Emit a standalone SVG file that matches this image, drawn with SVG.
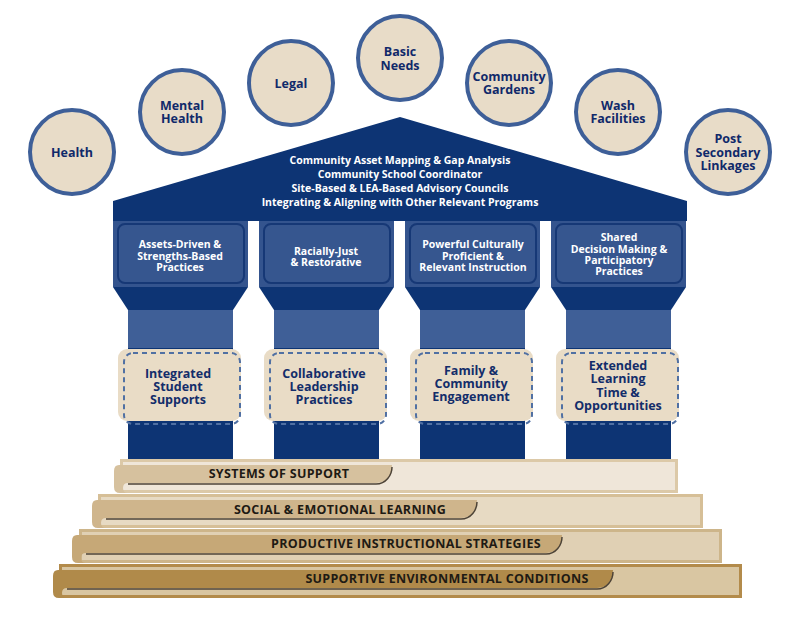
<svg xmlns="http://www.w3.org/2000/svg" width="800" height="633" viewBox="0 0 800 633">
<style>
.circ{fill:#e8dcc8;stroke:#3e5f98;stroke-width:4}
.ct{font-family:"Open Sans","Liberation Sans",sans-serif;font-weight:700;font-size:12.5px;fill:#10296a;text-anchor:middle}
.rt{font-family:"Open Sans","Liberation Sans",sans-serif;font-weight:700;font-size:10.5px;fill:#ffffff;text-anchor:middle}
.navy{fill:#0d3474}
.cap{fill:#34548e}
.capin{fill:#36568f;stroke:#163876;stroke-width:2}
.shu{fill:#3f5f97}
.tan{fill:#e9dcc6}
.dash{fill:none;stroke:#5070a3;stroke-width:2;stroke-dasharray:5 4}
.pt{font-family:"Open Sans","Liberation Sans",sans-serif;font-weight:700;font-size:10.5px;fill:#ffffff;text-anchor:middle}
.bt{font-family:"Open Sans","Liberation Sans",sans-serif;font-weight:700;font-size:12.5px;fill:#132d6a;text-anchor:middle}
.st{font-family:"Open Sans","Liberation Sans",sans-serif;font-weight:700;font-size:12.5px;letter-spacing:0.3px;fill:#1e1a14;text-anchor:middle}
.sh{fill:none;stroke:#4d4336;stroke-width:1.5}
</style>

<g id="health"><circle class="circ" cx="72" cy="152" r="42"/><text class="ct" x="72" y="157">Health</text></g>
<g id="mental-health"><circle class="circ" cx="182" cy="112" r="42"/><text class="ct" x="182" y="110">Mental</text><text class="ct" x="182" y="123">Health</text></g>
<g id="legal"><circle class="circ" cx="291" cy="83" r="42"/><text class="ct" x="291" y="88">Legal</text></g>
<g id="basic-needs"><circle class="circ" cx="400" cy="58" r="42"/><text class="ct" x="400" y="56">Basic</text><text class="ct" x="400" y="70">Needs</text></g>
<g id="community-gardens"><circle class="circ" cx="509" cy="83" r="42"/><text class="ct" x="509" y="81">Community</text><text class="ct" x="509" y="94">Gardens</text></g>
<g id="wash-facilities"><circle class="circ" cx="618" cy="112" r="42"/><text class="ct" x="618" y="110">Wash</text><text class="ct" x="618" y="123">Facilities</text></g>
<g id="post-secondary"><circle class="circ" cx="728" cy="152" r="42"/><text class="ct" x="728" y="143">Post</text><text class="ct" x="728" y="157">Secondary</text><text class="ct" x="728" y="170">Linkages</text></g>

<g id="roof">
<polygon class="navy" points="113,201 400,117 687,201 687,221 113,221"/>
<text class="rt" x="400" y="164">Community Asset Mapping &amp; Gap Analysis</text>
<text class="rt" x="400" y="178">Community School Coordinator</text>
<text class="rt" x="400" y="192">Site-Based &amp; LEA-Based Advisory Councils</text>
<text class="rt" x="400" y="206">Integrating &amp; Aligning with Other Relevant Programs</text>
</g>

<g id="pillar-1">
<rect class="cap" x="113" y="221" width="135" height="66"/>
<rect class="capin" x="118" y="224" width="126" height="59" rx="7"/>
<polygon class="navy" points="113,287 248,287 233,310 128,310"/>
<rect class="shu" x="128" y="310" width="105" height="38"/>
<rect class="navy" x="128" y="348" width="105" height="112"/>
<text class="pt" x="180" y="248">Assets-Driven &amp;</text>
<text class="pt" x="180" y="260">Strengths-Based</text>
<text class="pt" x="180" y="271">Practices</text>
<rect class="tan" x="118" y="349" width="123" height="72" rx="9"/>
<rect class="dash" x="124" y="353" width="116" height="71" rx="9"/>
<text class="bt" x="178" y="378">Integrated</text>
<text class="bt" x="178" y="391">Student</text>
<text class="bt" x="178" y="404">Supports</text>
</g>

<g id="pillar-2">
<rect class="cap" x="259" y="221" width="135" height="66"/>
<rect class="capin" x="264" y="224" width="126" height="59" rx="7"/>
<polygon class="navy" points="259,287 394,287 379,310 274,310"/>
<rect class="shu" x="274" y="310" width="105" height="38"/>
<rect class="navy" x="274" y="348" width="105" height="112"/>
<text class="pt" x="326" y="255">Racially-Just</text>
<text class="pt" x="326" y="266">&amp; Restorative</text>
<rect class="tan" x="264" y="349" width="123" height="72" rx="9"/>
<rect class="dash" x="270" y="353" width="116" height="71" rx="9"/>
<text class="bt" x="324" y="378">Collaborative</text>
<text class="bt" x="324" y="391">Leadership</text>
<text class="bt" x="324" y="404">Practices</text>
</g>

<g id="pillar-3">
<rect class="cap" x="405" y="221" width="135" height="66"/>
<rect class="capin" x="410" y="224" width="126" height="59" rx="7"/>
<polygon class="navy" points="405,287 540,287 525,310 420,310"/>
<rect class="shu" x="420" y="310" width="105" height="38"/>
<rect class="navy" x="420" y="348" width="105" height="112"/>
<text class="pt" x="473" y="248">Powerful Culturally</text>
<text class="pt" x="473" y="260">Proficient &amp;</text>
<text class="pt" x="473" y="271">Relevant Instruction</text>
<rect class="tan" x="410" y="349" width="123" height="72" rx="9"/>
<rect class="dash" x="416" y="353" width="116" height="71" rx="9"/>
<text class="bt" x="471" y="375">Family &amp;</text>
<text class="bt" x="471" y="388">Community</text>
<text class="bt" x="471" y="401">Engagement</text>
</g>

<g id="pillar-4">
<rect class="cap" x="551" y="221" width="135" height="66"/>
<rect class="capin" x="556" y="224" width="126" height="59" rx="7"/>
<polygon class="navy" points="551,287 686,287 671,310 566,310"/>
<rect class="shu" x="566" y="310" width="105" height="38"/>
<rect class="navy" x="566" y="348" width="105" height="112"/>
<text class="pt" x="619" y="241">Shared</text>
<text class="pt" x="619" y="253">Decision Making &amp;</text>
<text class="pt" x="619" y="264">Participatory</text>
<text class="pt" x="619" y="275">Practices</text>
<rect class="tan" x="556" y="349" width="123" height="72" rx="9"/>
<rect class="dash" x="562" y="353" width="116" height="71" rx="9"/>
<text class="bt" x="618" y="370">Extended</text>
<text class="bt" x="618" y="383">Learning</text>
<text class="bt" x="618" y="397">Time &amp;</text>
<text class="bt" x="618" y="410">Opportunities</text>
</g>

<g id="step-4">
<rect x="60.5" y="565.5" width="680" height="31" fill="#d9c6a2" stroke="#b38b4b" stroke-width="3"/>
<path d="M58,570 H613 C613,579 608,588 597,588 H67 Q62,588 62,593 Q62,598 67,598 H59 Q53,598 53,592 V576 Q53,570 58,570 Z" fill="#b08a4a"/>
<path class="sh" d="M67,589 H597 C607,589 613,580 613,572"/>
<text class="st" x="447" y="583">SUPPORTIVE ENVIRONMENTAL CONDITIONS</text>
</g>
<g id="step-3">
<rect x="80.5" y="530.5" width="640" height="31" fill="#e0d0b4" stroke="#cdb58a" stroke-width="3"/>
<path d="M77,535 H562 C562,544 557,553 546,553 H86 Q81,553 81,558 Q81,563 86,563 H78 Q72,563 72,557 V541 Q72,535 77,535 Z" fill="#c6a877"/>
<path class="sh" d="M86,554 H546 C556,554 562,545 562,537"/>
<text class="st" x="406" y="548">PRODUCTIVE INSTRUCTIONAL STRATEGIES</text>
</g>
<g id="step-2">
<rect x="99.5" y="495.5" width="602" height="31" fill="#e7dac3" stroke="#d6bf97" stroke-width="3"/>
<path d="M97,500 H477 C477,509 472,518 461,518 H106 Q101,518 101,523 Q101,528 106,528 H98 Q92,528 92,522 V506 Q92,500 97,500 Z" fill="#cfb58c"/>
<path class="sh" d="M106,519 H461 C471,519 477,510 477,502"/>
<text class="st" x="340" y="514">SOCIAL &amp; EMOTIONAL LEARNING</text>
</g>
<g id="step-1">
<rect x="121.5" y="460.5" width="555" height="31" fill="#efe6d9" stroke="#dcc9a8" stroke-width="3"/>
<path d="M119,465 H392 C392,474 387,483 376,483 H128 Q123,483 123,488 Q123,493 128,493 H120 Q114,493 114,487 V471 Q114,465 119,465 Z" fill="#d6c19e"/>
<path class="sh" d="M128,484 H376 C386,484 392,475 392,467"/>
<text class="st" x="279" y="478">SYSTEMS OF SUPPORT</text>
</g>
<g id="connectors"/>
</svg>
